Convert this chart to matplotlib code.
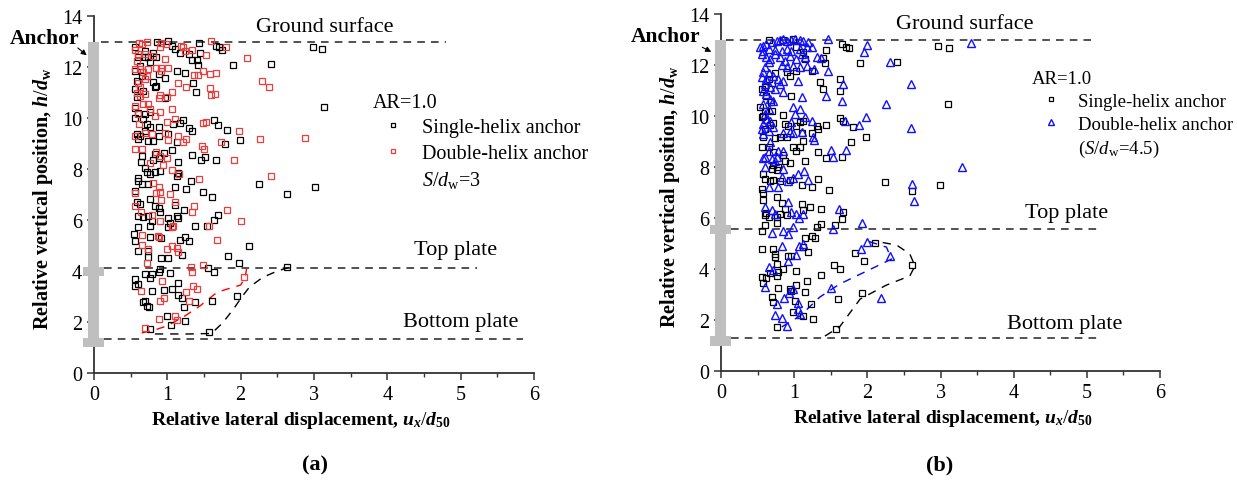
import matplotlib.pyplot as plt
from matplotlib.patches import Rectangle
from matplotlib.lines import Line2D

plt.rcParams['font.family'] = ['Liberation Serif', 'DejaVu Serif']
plt.rcParams['mathtext.fontset'] = 'custom'
plt.rcParams['mathtext.rm'] = 'Liberation Serif'
plt.rcParams['mathtext.it'] = 'Liberation Serif:italic'
plt.rcParams['mathtext.bf'] = 'Liberation Serif:bold:italic'
plt.rcParams['mathtext.sf'] = 'Liberation Serif:bold'

# ---- panel (a): single-helix vs double-helix (S/dw = 3) ----
a_single = [
    (0.86, 13.00), (1.01, 13.03), (1.43, 12.96), (1.07, 12.83), (1.10, 12.70), (1.66, 12.81),
    (1.71, 12.77), (1.74, 12.68), (2.98, 12.77), (3.11, 12.70), (0.56, 12.77), (0.70, 12.64),
    (0.81, 12.57), (1.17, 12.57), (1.29, 12.51), (1.45, 12.57), (1.33, 12.27), (1.40, 12.27),
    (1.42, 12.09), (1.90, 12.07), (2.41, 12.11), (0.60, 12.40), (0.70, 12.38), (0.74, 12.38),
    (0.85, 12.38), (0.76, 12.18), (0.63, 12.05), (1.13, 11.85), (1.24, 11.75), (0.97, 11.59),
    (0.88, 11.72), (0.56, 11.85), (0.65, 11.66), (0.58, 11.46), (0.81, 11.40), (1.35, 11.36),
    (0.85, 11.26), (0.83, 11.20), (1.39, 11.04), (0.56, 11.13), (0.67, 11.07), (0.58, 10.81),
    (0.97, 10.77), (3.13, 10.45), (0.56, 10.39), (0.60, 10.19), (0.70, 10.15), (0.76, 10.22),
    (0.56, 10.02), (0.67, 9.96), (0.88, 9.63), (1.08, 9.76), (1.17, 9.79), (1.22, 9.92),
    (1.64, 9.92), (1.69, 9.73), (1.82, 9.54), (1.33, 9.50), (1.29, 9.60), (0.72, 9.76),
    (0.76, 9.63), (0.70, 9.50), (0.58, 9.37), (0.63, 9.30), (0.88, 9.30), (0.81, 9.11),
    (0.74, 9.11), (0.60, 9.17), (1.01, 9.37), (1.13, 9.08), (1.79, 8.98), (1.99, 9.13),
    (1.06, 8.74), (0.95, 8.64), (0.65, 8.52), (0.83, 8.58), (0.81, 8.35), (0.88, 8.43),
    (1.33, 8.56), (1.51, 8.48), (1.46, 8.35), (1.66, 8.35), (0.64, 8.26), (1.15, 8.26),
    (0.70, 8.06), (0.90, 7.93), (0.72, 7.89), (1.13, 7.73), (1.15, 7.86), (0.83, 7.90),
    (0.76, 7.80), (0.60, 7.64), (0.65, 7.41), (0.74, 7.41), (0.60, 7.54), (1.32, 7.54),
    (2.25, 7.41), (3.01, 7.30), (0.56, 7.15), (1.10, 7.28), (1.25, 7.20), (1.49, 7.08),
    (1.61, 6.91), (2.63, 7.04), (0.58, 6.69), (0.63, 6.62), (0.76, 6.82), (0.83, 6.56),
    (0.90, 6.30), (0.88, 6.49), (1.23, 6.40), (1.10, 6.60), (0.60, 6.17), (0.67, 6.10),
    (0.74, 6.17), (1.01, 6.09), (1.15, 6.06), (1.13, 6.17), (1.69, 6.21), (1.64, 6.00),
    (0.76, 5.77), (0.79, 5.97), (1.04, 5.90), (1.01, 5.71), (1.38, 5.77), (1.54, 5.75),
    (0.60, 5.73), (0.55, 5.47), (0.76, 5.32), (0.92, 5.29), (1.24, 5.32), (1.29, 5.18),
    (1.17, 5.22), (0.56, 5.16), (2.11, 4.99), (0.60, 4.79), (0.74, 4.77), (1.83, 4.60),
    (1.20, 4.64), (0.92, 4.51), (1.01, 4.51), (0.73, 4.56), (1.98, 4.33), (2.63, 4.14),
    (1.56, 4.10), (1.63, 3.97), (0.69, 3.88), (0.79, 3.90), (0.88, 3.98), (0.90, 4.09),
    (1.04, 3.93), (0.56, 3.68), (0.60, 3.49), (0.76, 3.71), (1.15, 3.51), (0.56, 3.42),
    (0.79, 3.22), (0.95, 3.25), (1.06, 3.29), (1.15, 3.07), (1.20, 2.96), (1.38, 2.77),
    (1.61, 2.81), (1.95, 3.02), (0.70, 2.83), (0.67, 2.77), (0.72, 2.64), (0.75, 2.57),
    (1.23, 2.57), (0.99, 2.25), (1.24, 2.02), (1.05, 1.89), (0.76, 1.72), (1.57, 1.62),
]
a_double = [
    (0.61, 12.96), (0.72, 13.00), (0.65, 12.92), (0.91, 12.96), (0.98, 12.92), (1.19, 12.83),
    (1.22, 12.77), (1.24, 12.64), (1.33, 12.66), (1.60, 13.03), (1.80, 12.77), (1.53, 12.47),
    (2.09, 12.34), (0.56, 12.66), (0.60, 12.53), (0.58, 12.24), (0.70, 12.51), (0.81, 12.44),
    (0.90, 12.77), (0.97, 12.31), (0.92, 11.98), (1.01, 11.98), (0.85, 11.98), (0.74, 11.92),
    (0.67, 11.79), (0.63, 11.92), (0.56, 11.92), (0.72, 11.66), (0.70, 11.53), (0.60, 11.36),
    (0.63, 11.20), (0.92, 11.85), (1.37, 11.70), (1.42, 11.70), (1.49, 11.85), (1.58, 11.72),
    (1.66, 11.75), (1.25, 11.20), (1.14, 11.36), (1.06, 11.04), (1.00, 10.81), (0.90, 10.90),
    (0.88, 10.78), (0.70, 10.96), (0.63, 10.87), (0.58, 11.00), (0.56, 10.48), (0.67, 10.57),
    (0.74, 10.55), (0.76, 10.35), (0.60, 10.15), (0.83, 10.09), (0.90, 10.22), (1.07, 10.35),
    (2.29, 11.46), (2.38, 11.20), (1.58, 11.17), (1.60, 10.91), (1.65, 10.94), (0.61, 9.76),
    (0.56, 9.30), (0.70, 9.43), (0.79, 9.37), (0.97, 9.40), (1.01, 9.13), (1.21, 9.08),
    (1.26, 9.17), (1.15, 9.30), (1.10, 9.96), (0.99, 9.84), (1.48, 9.80), (1.53, 9.83),
    (1.98, 9.50), (2.27, 9.17), (2.88, 9.21), (1.73, 9.07), (0.56, 8.78), (0.65, 8.78),
    (0.85, 8.65), (0.90, 8.52), (1.00, 8.45), (1.47, 8.91), (1.50, 8.78), (1.91, 8.35),
    (0.76, 8.22), (0.94, 8.17), (1.07, 7.98), (1.16, 7.80), (1.43, 7.60), (2.41, 7.73),
    (0.81, 7.47), (0.88, 7.28), (0.90, 7.08), (0.92, 6.79), (1.04, 7.04), (0.56, 7.05),
    (0.85, 7.05), (0.56, 6.56), (1.11, 6.69), (1.37, 6.56), (1.33, 6.32), (1.82, 6.40),
    (2.00, 5.97), (0.64, 6.32), (0.79, 6.19), (0.90, 5.97), (1.08, 5.77), (1.06, 5.71),
    (1.57, 5.77), (0.66, 5.41), (0.87, 5.38), (0.89, 5.32), (1.06, 4.99), (1.13, 4.90),
    (1.14, 4.73), (0.99, 4.86), (0.74, 4.88), (0.65, 5.03), (0.72, 4.33), (1.68, 5.22),
    (1.32, 4.14), (1.33, 3.98), (1.48, 4.23), (0.93, 3.62), (1.35, 3.42), (1.26, 3.19),
    (1.40, 3.29), (0.64, 3.22), (0.90, 2.83), (0.96, 2.94), (1.29, 2.83), (2.05, 3.75),
    (0.88, 2.11), (1.13, 2.07), (1.10, 2.25), (0.69, 1.76),
]
a_single_curve_x = [0.83, 1.05, 1.30, 1.60, 1.75, 1.90, 2.02, 2.12, 2.30, 2.50, 2.67]
a_single_curve_y = [1.53, 1.53, 1.53, 1.55, 1.95, 2.50, 3.00, 3.37, 3.75, 4.00, 4.15]
a_double_curve_x = [0.65, 0.82, 1.00, 1.22, 1.45, 1.68, 1.85, 2.00, 2.06, 2.08]
a_double_curve_y = [1.57, 1.68, 1.85, 2.20, 2.64, 3.17, 3.32, 3.45, 3.75, 4.08]

# ---- panel (b): single-helix vs double-helix (S/dw = 4.5) ----
b_single = [
    (0.66, 12.98), (0.85, 12.98), (0.99, 13.02), (1.65, 12.83), (1.71, 12.72), (1.75, 12.67),
    (2.96, 12.76), (3.11, 12.67), (1.44, 12.59), (1.03, 12.70), (1.12, 12.50), (1.15, 12.24),
    (1.39, 12.28), (1.42, 12.07), (1.90, 12.08), (2.40, 12.11), (1.24, 11.78), (0.90, 11.72),
    (0.94, 11.59), (1.03, 11.76), (1.35, 11.35), (1.62, 11.46), (1.40, 11.06), (1.63, 10.97),
    (0.60, 11.13), (0.69, 11.29), (0.65, 11.46), (0.74, 11.68), (0.56, 11.06), (0.62, 10.80),
    (0.96, 10.78), (0.68, 10.54), (3.10, 10.47), (0.53, 10.34), (0.60, 10.21), (0.57, 10.02),
    (0.69, 10.19), (0.56, 9.95), (0.84, 10.04), (1.63, 9.93), (1.67, 9.80), (1.81, 9.56),
    (1.98, 9.17), (1.77, 9.00), (1.43, 9.66), (1.31, 9.63), (1.33, 9.49), (1.24, 9.32),
    (1.12, 9.82), (1.08, 9.78), (0.87, 9.69), (0.92, 9.63), (1.03, 9.63), (0.71, 9.72),
    (0.67, 9.66), (0.60, 9.49), (0.58, 9.19), (0.74, 9.14), (0.80, 9.19), (0.90, 9.17),
    (1.10, 9.32), (1.12, 9.04), (1.03, 8.62), (0.99, 8.78), (1.08, 8.78), (1.33, 8.58),
    (1.44, 8.36), (1.65, 8.38), (0.85, 8.49), (0.71, 8.58), (0.56, 8.78), (0.65, 8.80),
    (0.87, 8.25), (0.94, 8.15), (1.15, 8.25), (0.71, 8.10), (0.69, 7.93), (0.76, 7.89),
    (0.78, 8.02), (0.58, 7.73), (0.60, 7.53), (0.67, 7.47), (0.71, 7.49), (0.80, 7.47),
    (0.94, 7.51), (1.10, 7.30), (1.24, 7.21), (1.32, 7.53), (1.48, 7.10), (2.24, 7.42),
    (2.99, 7.31), (2.61, 7.05), (0.56, 7.14), (0.58, 6.97), (0.57, 6.72), (0.76, 6.84),
    (0.83, 6.58), (0.87, 6.36), (0.90, 6.10), (1.12, 6.32), (1.21, 6.42), (1.37, 6.36),
    (1.11, 6.55), (0.62, 6.19), (0.60, 6.10), (0.65, 6.03), (0.76, 6.03), (0.80, 6.16),
    (1.31, 5.64), (1.37, 5.77), (1.56, 5.74), (1.66, 6.23), (1.65, 5.95), (0.60, 5.74),
    (0.76, 5.80), (0.56, 5.51), (1.15, 5.22), (1.24, 5.31), (1.28, 5.22), (1.12, 4.85),
    (1.19, 4.66), (0.56, 4.79), (0.71, 4.79), (0.74, 4.59), (0.74, 4.46), (0.92, 4.53),
    (0.96, 4.53), (1.83, 4.62), (2.11, 5.01), (1.96, 4.33), (2.61, 4.17), (1.55, 4.14),
    (1.62, 3.99), (0.76, 4.20), (0.85, 4.00), (0.78, 3.87), (0.67, 3.83), (0.56, 3.70),
    (0.62, 3.64), (0.76, 3.74), (1.03, 3.94), (1.37, 3.76), (0.58, 3.44), (1.17, 3.55),
    (1.03, 3.38), (0.78, 3.26), (0.96, 3.13), (1.15, 3.09), (0.94, 3.22), (1.93, 3.05),
    (1.60, 2.83), (0.69, 2.89), (0.71, 2.70), (1.01, 2.74), (1.23, 2.63), (0.99, 2.31),
    (1.12, 2.14), (1.25, 2.04), (0.76, 1.72), (1.57, 1.65),
]
b_double = [
    (1.46, 13.02), (1.99, 12.80), (1.96, 12.50), (2.31, 12.11), (2.59, 11.26), (2.25, 10.47),
    (2.59, 9.52), (2.61, 7.34), (2.64, 6.66), (1.98, 9.95), (1.88, 9.66), (1.70, 9.80),
    (1.67, 11.26), (1.65, 10.61), (1.43, 10.80), (1.46, 11.76), (1.31, 12.30), (1.37, 12.28),
    (1.27, 11.85), (1.10, 10.76), (0.99, 10.34), (1.08, 10.28), (1.01, 10.08), (1.15, 9.95),
    (1.24, 9.80), (0.96, 9.76), (1.10, 9.36), (1.26, 9.19), (1.27, 9.06), (0.99, 9.32),
    (0.94, 9.36), (0.84, 9.32), (1.71, 8.68), (1.50, 8.67), (1.53, 8.38), (0.85, 8.64),
    (0.78, 8.62), (0.67, 8.97), (0.65, 8.64), (0.60, 8.41), (0.58, 8.36), (0.69, 8.32),
    (0.76, 8.41), (0.74, 8.25), (0.60, 7.99), (0.85, 7.93), (1.14, 7.86), (1.05, 7.73),
    (1.19, 7.49), (0.99, 7.57), (0.92, 7.47), (0.83, 7.60), (0.78, 7.21), (0.65, 7.21),
    (0.92, 6.62), (0.60, 6.42), (0.69, 6.32), (0.74, 6.16), (0.96, 6.23), (1.03, 6.16),
    (1.07, 5.99), (1.12, 6.16), (1.61, 6.36), (1.92, 5.81), (1.53, 5.57), (0.99, 5.66),
    (0.69, 5.40), (0.85, 5.51), (0.92, 5.38), (1.07, 4.89), (1.12, 4.98), (1.99, 5.05),
    (1.91, 4.79), (2.31, 4.53), (1.03, 4.55), (0.92, 4.31), (0.83, 4.89), (0.65, 4.07),
    (0.71, 3.97), (0.60, 3.29), (0.99, 3.22), (1.50, 3.26), (0.86, 2.85), (0.93, 3.05),
    (2.18, 2.85), (0.76, 2.61), (1.05, 2.66), (1.05, 2.44), (1.08, 2.24), (0.83, 2.07),
    (0.90, 1.78), (0.74, 2.21), (3.42, 12.86), (3.29, 8.00),
    (0.53, 12.70), (0.58, 12.76), (0.62, 12.83), (0.69, 12.89), (0.76, 12.96), (0.80, 12.98),
    (0.85, 13.02), (0.90, 12.93), (0.96, 12.98), (1.01, 13.02), (1.08, 12.98), (1.12, 12.96),
    (1.19, 12.89), (1.24, 12.72), (1.17, 12.70), (1.08, 12.63), (0.96, 12.57), (0.90, 12.63),
    (0.83, 12.57), (0.74, 12.59), (0.65, 12.63), (0.58, 12.57), (0.56, 12.44), (0.62, 12.30),
    (0.67, 12.24), (0.74, 12.44), (0.80, 12.30), (0.87, 12.17), (0.94, 12.37), (1.03, 12.24),
    (1.10, 12.44), (1.15, 12.30), (0.99, 11.98), (1.08, 11.91), (1.17, 11.98), (0.90, 11.91),
    (0.83, 12.02), (0.65, 12.11), (0.60, 11.91), (0.58, 11.72), (0.65, 11.68), (0.71, 11.59),
    (0.78, 11.46), (0.85, 11.39), (1.05, 11.39), (0.62, 11.46), (0.56, 11.52), (0.60, 11.26),
    (0.67, 11.13), (0.74, 11.06), (0.80, 11.26), (0.85, 10.93), (0.58, 11.00), (0.62, 10.87),
    (0.67, 10.67), (0.58, 10.47), (0.65, 10.28), (0.71, 10.61), (0.60, 10.08), (0.62, 9.89),
    (0.67, 9.80), (0.58, 9.69), (0.56, 9.49), (0.65, 9.43), (0.71, 9.56), (0.58, 9.30),
]
b_single_curve_x = [1.42, 1.62, 1.90, 2.26, 2.58, 2.65, 2.58, 2.40, 2.17]
b_single_curve_y = [1.37, 1.73, 2.82, 3.37, 3.73, 4.12, 4.59, 4.94, 5.06]
b_double_curve_x = [0.83, 1.08, 1.35, 1.62, 1.99, 2.33, 2.26, 2.00]
b_double_curve_y = [1.73, 2.16, 2.90, 3.41, 3.92, 4.39, 4.86, 5.10]

RED = '#ee3b3b'
BLUE = '#1010ff'
GRAY = '#bfbfbf'


def setup_axes(ax):
    ax.set_xlim(0, 6)
    ax.set_ylim(0, 14)
    for s in ['top', 'right']:
        ax.spines[s].set_visible(False)
    for s in ['left', 'bottom']:
        ax.spines[s].set_color('#333333')
        ax.spines[s].set_linewidth(1.3)
    ax.set_xticks(range(0, 7))
    ax.set_xticks([0.5, 1.5, 2.5, 3.5, 4.5, 5.5], minor=True)
    ax.set_yticks(range(0, 15, 2))
    ax.tick_params(which='major', direction='out', length=5, width=1.1, labelsize=14.5,
                   color='#333333')
    ax.tick_params(which='minor', direction='out', length=3, width=1.0, color='#333333')
    ax.set_xlabel(r'Relative lateral displacement, $\mathbf{u}_\mathbf{x}/\mathbf{d}_\mathsf{50}$',
                  fontsize=14, fontweight='bold')
    ax.set_ylabel(r'Relative vertical position, $\mathbf{h}/\mathbf{d}_\mathsf{w}$',
                  fontsize=14.5, fontweight='bold')
    ax.yaxis.set_label_coords(-0.088, 0.49)


def draw_anchor(ax, top_plate):
    shaft = Rectangle((-0.08, 1.0), 0.15, 12.0, color=GRAY, clip_on=False, zorder=3, lw=0)
    ax.add_patch(shaft)
    for yb, h in [(1.0, 0.36), (top_plate - 0.18, 0.34)]:
        ax.add_patch(Rectangle((-0.145, yb), 0.28, h, color=GRAY, clip_on=False, zorder=3, lw=0))


def hline(ax, y, x0, x1):
    ax.plot([x0, x1], [y, y], color='#222222', lw=1.1, ls=(0, (5, 4)), zorder=2)


fig = plt.figure(figsize=(12.37, 4.81), dpi=100)
ax_a = fig.add_axes([0.0760, 0.2225, 0.3557, 0.742])
ax_b = fig.add_axes([0.5829, 0.2266, 0.3549, 0.742])

for ax in (ax_a, ax_b):
    setup_axes(ax)
ax_a.xaxis.set_label_coords(0.47, -0.1)
ax_b.xaxis.set_label_coords(0.505, -0.1)

# panel (a)
ax = ax_a
draw_anchor(ax, 4.0)
hline(ax, 13.0, 0.1, 4.8)
hline(ax, 4.12, 0.14, 5.22)
hline(ax, 1.33, 0.14, 5.85)
ax.plot(a_single_curve_x, a_single_curve_y, color='k', lw=1.0, ls=(0, (6, 5)), zorder=2)
ax.plot(a_double_curve_x, a_double_curve_y, color='red', lw=1.0, ls=(0, (6, 5)), zorder=2)
ax.plot([p[0] for p in a_single], [p[1] for p in a_single], ls='none', marker='s', ms=4.2,
        mfc='none', mec='k', mew=0.9, label='Single-helix anchor', zorder=4)
ax.plot([p[0] for p in a_double], [p[1] for p in a_double], ls='none', marker='s', ms=4.2,
        mfc='none', mec=RED, mew=0.9, label='Double-helix anchor', zorder=4)
ax.text(3.15, 13.6, 'Ground surface', fontsize=16, ha='center', va='center')
ax.text(4.93, 4.86, 'Top plate', fontsize=16, ha='center', va='center')
ax.text(5.0, 2.0, 'Bottom plate', fontsize=16, ha='center', va='center')
ax.text(-1.15, 13.15, 'Anchor', fontsize=15.5, fontweight='bold', ha='left', va='center',
        clip_on=False)
ax.annotate('', xy=(-0.07, 12.39), xytext=(-0.25, 12.82), annotation_clip=False,
            arrowprops=dict(arrowstyle='-|>', color='k', lw=0.8, mutation_scale=8))
h, l = ax.get_legend_handles_labels()
h.append(Line2D([], [], ls='none'))
l.append(r'$\mathit{S}/\mathit{d}_\mathrm{w}$=3')
leg = ax.legend(h, l, title='AR=1.0', loc='upper left', bbox_to_anchor=(3.8, 11.0),
                bbox_transform=ax.transData, frameon=False, fontsize=14.5, title_fontsize=14.5,
                handlelength=2.0, handletextpad=0.45, labelspacing=0.32, borderpad=0,
                borderaxespad=0, markerscale=0.8)
leg._legend_box.align = 'left'

# panel (b)
ax = ax_b
draw_anchor(ax, 5.55)
hline(ax, 13.0, 0.07, 5.06)
hline(ax, 5.57, 0.14, 5.2)
hline(ax, 1.3, 0.14, 5.15)
ax.plot(b_single_curve_x, b_single_curve_y, color='k', lw=1.0, ls=(0, (6, 5)), zorder=2)
ax.plot(b_double_curve_x, b_double_curve_y, color='blue', lw=1.0, ls=(0, (6, 5)), zorder=2)
ax.plot([p[0] for p in b_single], [p[1] for p in b_single], ls='none', marker='s', ms=4.2,
        mfc='none', mec='k', mew=0.9, label='Single-helix anchor', zorder=4)
ax.plot([p[0] for p in b_double], [p[1] for p in b_double], ls='none', marker='^', ms=5.5,
        mfc='none', mec=BLUE, mew=1.0, label='Double-helix anchor', zorder=4)
ax.text(3.33, 13.65, 'Ground surface', fontsize=16, ha='center', va='center')
ax.text(4.72, 6.22, 'Top plate', fontsize=16, ha='center', va='center')
ax.text(4.69, 1.85, 'Bottom plate', fontsize=16, ha='center', va='center')
ax.text(-1.23, 13.15, 'Anchor', fontsize=15.5, fontweight='bold', ha='left', va='center',
        clip_on=False)
ax.annotate('', xy=(-0.1, 12.47), xytext=(-0.29, 12.75), annotation_clip=False,
            arrowprops=dict(arrowstyle='-|>', color='k', lw=0.8, mutation_scale=8))
h, l = ax.get_legend_handles_labels()
h.append(Line2D([], [], ls='none'))
l.append(r'($\mathit{S}/\mathit{d}_\mathrm{w}$=4.5)')
leg = ax.legend(h, l, title='AR=1.0', loc='upper left', bbox_to_anchor=(4.25, 11.8),
                bbox_transform=ax.transData, frameon=False, fontsize=13.5, title_fontsize=13.5,
                handlelength=2.0, handletextpad=0.45, labelspacing=0.3, borderpad=0,
                borderaxespad=0, markerscale=0.8)
leg._legend_box.align = 'left'

fig.text(315 / 1237, 1 - 465 / 481, '(a)', fontsize=16, fontweight='bold', ha='center',
         va='center')
fig.text(940 / 1237, 1 - 465 / 481, '(b)', fontsize=16, fontweight='bold', ha='center',
         va='center')

fig.savefig('out.png', dpi=100)
